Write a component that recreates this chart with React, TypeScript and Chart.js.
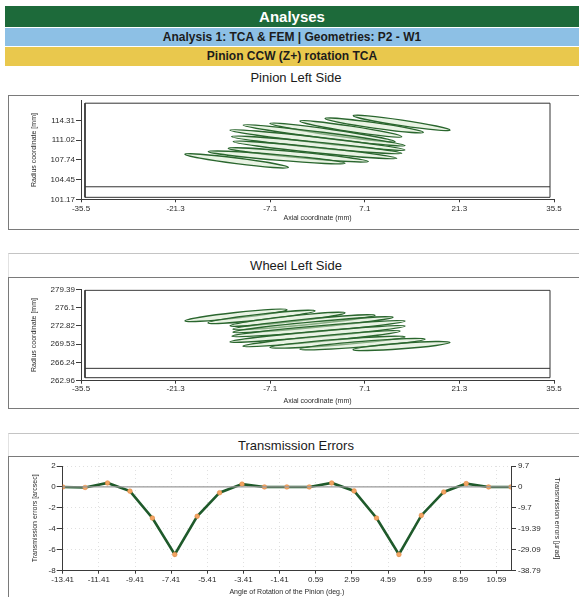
import React, { useEffect, useRef } from "react";
import { Chart, registerables } from "chart.js";
Chart.register(...registerables);

const FONT = "'Liberation Sans', Arial, sans-serif";
Chart.defaults.font.family = FONT;

// ---------- Pinion Left Side ----------
const CONTACT_X_TICKS = [-35.5, -21.3, -7.1, 7.1, 21.3, 35.5];
const PINION_Y_TICKS = [101.17, 104.45, 107.74, 111.02, 114.31];
const PINION_Y_MIN = 101.17;
const PINION_Y_MAX = 117.6;
const PINION_BLANK_X = [-34.9, 34.9, 34.9, -34.9, -34.9];
const PINION_BLANK_Y = [101.5, 101.5, 117.2, 117.2, 101.5];
const PINION_ROOT_X = [-34.9, 34.9];
const PINION_ROOT_Y = [103.26, 103.26];
const PINION_ELL_X1 = [5.37, 1.13, -2.63, -7.13, -11.14, -13.13, -12.88, -12.64, -13.39, -16.39, -19.89];
const PINION_ELL_Y1 = [115.11, 114.66, 114.21, 113.83, 113.55, 112.72, 111.62, 110.79, 109.68, 109.14, 108.69];
const PINION_ELL_X2 = [19.89, 15.88, 12.64, 11.63, 13.13, 13.13, 12.64, 11.89, 7.63, 4.13, -4.38];
const PINION_ELL_Y2 = [112.72, 112.34, 111.62, 110.79, 110.13, 109.4, 108.85, 108.02, 107.48, 107.19, 106.48];

// ---------- Wheel Left Side ----------
const WHEEL_Y_TICKS = [262.96, 266.24, 269.53, 272.82, 276.1, 279.39];
const WHEEL_Y_MIN = 262.96;
const WHEEL_Y_MAX = 279.39;
const WHEEL_BLANK_X = [-34.9, 34.9, 34.9, -34.9, -34.9];
const WHEEL_BLANK_Y = [263.5, 263.5, 279.21, 279.21, 263.5];
const WHEEL_ROOT_X = [-34.9, 34.9];
const WHEEL_ROOT_Y = [265.18, 265.18];
const WHEEL_ELL_X1 = [-19.89, -16.44, -13.13, -12.68, -12.68, -12.83, -13.13, -11.18, -7.13, -2.63, 5.33];
const WHEEL_ELL_Y1 = [273.71, 273.35, 272.85, 272.22, 271.69, 270.97, 269.95, 269.18, 268.94, 268.64, 268.55];
const WHEEL_ELL_X2 = [-4.58, -0.38, 4.13, 8.63, 11.33, 13.13, 13.13, 12.38, 13.13, 16.14, 19.89];
const WHEEL_ELL_Y2 = [275.72, 275.5, 275.18, 274.73, 274.37, 273.66, 272.76, 271.87, 270.84, 270.43, 269.84];

// ---------- Transmission Errors ----------
const TE_ANGLE = [-13.41, -12.17, -10.93, -9.69, -8.45, -7.21, -5.97, -4.73, -3.49, -2.25, -1.01, 0.23, 1.47, 2.71, 3.95, 5.19, 6.43, 7.67, 8.91, 10.15, 11.39];
const TE_ARCSEC = [0, -0.05, 0.38, -0.4, -2.97, -6.45, -2.8, -0.55, 0.27, 0, 0, 0, 0.38, -0.38, -2.97, -6.45, -2.72, -0.48, 0.32, 0, 0];
const TE_X_TICKS = [-13.41, -11.41, -9.41, -7.41, -5.41, -3.41, -1.41, 0.59, 2.59, 4.59, 6.59, 8.59, 10.59];
const TE_X_MIN = -13.41;
const TE_X_MAX = 11.39;
const TE_Y_TICKS = [-8, -6, -4, -2, 0, 2];
const TE_Y2_TICKS = [-38.79, -29.09, -19.39, -9.7, 0, 9.7];
const TE_ZERO_X = [-13.41, 11.39];
const TE_ZERO_Y = [0, 0];

const ELLIPSE_HALF_WIDTH = 2.8;
const AXIS = "#3a3a3a";
const TXT = "#2a2a2a";

const pts = (xs: number[], ys: number[]) => xs.map((x, i) => ({ x, y: ys[i] }));

const ellipsePlugin = (x1: number[], y1: number[], x2: number[], y2: number[]) => ({
  id: "contactEllipses",
  afterDatasetsDraw(chart: any) {
    const { ctx, scales } = chart;
    const sx = scales.x, sy = scales.y;
    ctx.save();
    for (let i = 0; i < x1.length; i++) {
      const ax = sx.getPixelForValue(x1[i]), ay = sy.getPixelForValue(y1[i]);
      const bx = sx.getPixelForValue(x2[i]), by = sy.getPixelForValue(y2[i]);
      const cx = (ax + bx) / 2, cy = (ay + by) / 2;
      const r = Math.hypot(bx - ax, by - ay) / 2;
      const ang = Math.atan2(by - ay, bx - ax);
      ctx.beginPath();
      ctx.ellipse(cx, cy, r, ELLIPSE_HALF_WIDTH, ang, 0, Math.PI * 2);
      ctx.fillStyle = "rgba(215,234,205,0.55)";
      ctx.fill();
      ctx.lineWidth = 1.4;
      ctx.strokeStyle = "#2a662e";
      ctx.stroke();
    }
    ctx.restore();
  },
});

const fixedTicks = (vals: number[]) => (s: any) => {
  s.ticks = vals.map((value) => ({ value }));
};

function contactConfig(o: any) {
  return {
    type: "scatter",
    data: {
      datasets: [
        { data: pts(o.bx, o.by), showLine: true, borderColor: "#333", borderWidth: 1, pointRadius: 0, tension: 0 },
        { data: pts(o.rx, o.ry), showLine: true, borderColor: "#333", borderWidth: 1, pointRadius: 0, tension: 0 },
      ],
    },
    options: {
      animation: false,
      responsive: false,
      devicePixelRatio: 1,
      events: [],
      layout: { padding: { left: 0, right: 25, top: o.padTop, bottom: o.padBottom } },
      plugins: { legend: { display: false }, tooltip: { enabled: false } },
      scales: {
        x: {
          type: "linear",
          min: -35.5,
          max: 35.5,
          afterBuildTicks: fixedTicks(CONTACT_X_TICKS),
          afterFit: (s: any) => { s.height = o.xAxisH; },
          ticks: { autoSkip: false, maxRotation: 0, font: { size: 8 }, color: TXT, padding: o.xTickPad, callback: (v: any) => String(v) },
          grid: { drawOnChartArea: false, drawTicks: true, tickLength: 3, tickColor: AXIS },
          border: { display: true, color: AXIS, width: 1 },
          title: { display: true, text: "Axial coordinate (mm)", font: { size: 7 }, color: TXT, padding: { top: 0, bottom: 0 } },
        },
        y: {
          type: "linear",
          min: o.ymin,
          max: o.ymax,
          afterBuildTicks: fixedTicks(o.yticks),
          afterFit: (s: any) => { s.width = 73; },
          ticks: { autoSkip: false, font: { size: 8 }, color: TXT, padding: 1, callback: (v: any) => String(v) },
          grid: { drawOnChartArea: false, drawTicks: true, tickLength: 5, tickColor: AXIS },
          border: { display: true, color: AXIS, width: 1 },
          title: { display: true, text: "Radius coordinate [mm]", font: { size: 7 }, color: TXT, padding: { top: 21.5, bottom: 0 } },
        },
      },
    },
    plugins: [ellipsePlugin(o.ex1, o.ey1, o.ex2, o.ey2)],
  };
}

function teConfig() {
  return {
    type: "scatter",
    data: {
      datasets: [
        { data: pts(TE_ZERO_X, TE_ZERO_Y), showLine: true, borderColor: "#9a9a9a", borderWidth: 1.2, pointRadius: 0, yAxisID: "y" },
        {
          data: pts(TE_ANGLE, TE_ARCSEC),
          showLine: true,
          borderColor: "#1f5a2b",
          borderWidth: 2.6,
          tension: 0,
          pointRadius: 2.3,
          pointBackgroundColor: "#f3a463",
          pointBorderColor: "#e48c45",
          pointBorderWidth: 0.6,
          yAxisID: "y",
        },
      ],
    },
    options: {
      animation: false,
      responsive: false,
      devicePixelRatio: 1,
      events: [],
      layout: { padding: { left: 0, right: 0, top: 10, bottom: 1.1 } },
      plugins: { legend: { display: false }, tooltip: { enabled: false } },
      scales: {
        x: {
          type: "linear",
          min: TE_X_MIN,
          max: TE_X_MAX,
          afterBuildTicks: fixedTicks(TE_X_TICKS),
          afterFit: (s: any) => { s.height = 25.2; },
          ticks: { autoSkip: false, maxRotation: 0, font: { size: 8 }, color: TXT, padding: 1.5, callback: (v: any) => String(v) },
          grid: { drawOnChartArea: true, color: "#e0e0e0", lineWidth: 1, drawTicks: true, tickLength: 3, tickColor: AXIS },
          border: { display: true, color: AXIS, width: 1, dash: [1, 3] },
          title: { display: true, text: "Angle of Rotation of the Pinion (deg.)", font: { size: 7 }, color: TXT, padding: { top: 0, bottom: 0 } },
        },
        y: {
          type: "linear",
          position: "left",
          min: -8,
          max: 2,
          afterBuildTicks: fixedTicks(TE_Y_TICKS),
          afterFit: (s: any) => { s.width = 54.7; },
          ticks: { autoSkip: false, font: { size: 8 }, color: TXT, padding: 1, callback: (v: any) => String(v) },
          grid: { drawOnChartArea: true, color: "#e0e0e0", lineWidth: 1, drawTicks: true, tickLength: 6, tickColor: AXIS },
          border: { display: true, color: AXIS, width: 1, dash: [1, 3] },
          title: { display: true, text: "Transmission errors [arcsec]", font: { size: 7 }, color: TXT, padding: { top: 22.8, bottom: 0 } },
        },
        y2: {
          type: "linear",
          position: "right",
          min: -38.79,
          max: 9.7,
          afterBuildTicks: fixedTicks(TE_Y2_TICKS),
          afterFit: (s: any) => { s.width = 68; },
          ticks: { autoSkip: false, font: { size: 8 }, color: TXT, padding: 2, callback: (v: any) => String(v) },
          grid: { drawOnChartArea: false, drawTicks: true, tickLength: 5, tickColor: AXIS },
          border: { display: true, color: AXIS, width: 1 },
          title: { display: true, text: "Transmission errors [\u00b5rad]", font: { size: 7 }, color: TXT, padding: { top: 18, bottom: 0 } },
        },
      },
    },
  };
}

function ChartCanvas({ make, left, top, width, height }: { make: () => any; left: number; top: number; width: number; height: number }) {
  const ref = useRef<HTMLCanvasElement>(null);
  useEffect(() => {
    const chart = new Chart(ref.current as HTMLCanvasElement, make());
    return () => chart.destroy();
  }, []);
  return (
    <canvas
      ref={ref}
      width={width}
      height={height}
      style={{ position: "absolute", left, top, width, height }}
    />
  );
}

const bar = (top: number, height: number, bg: string): React.CSSProperties => ({
  position: "absolute", left: 5, top, width: 574, height, background: bg,
  textAlign: "center", lineHeight: height + "px", fontWeight: "bold", fontFamily: FONT,
});

const title = (top: number): React.CSSProperties => ({
  position: "absolute", left: 8, top, width: 576, height: 16, lineHeight: "16px",
  textAlign: "center", fontSize: 13, fontFamily: FONT, color: "#1a1a1a",
});

const box = (top: number, height: number): React.CSSProperties => ({
  position: "absolute", left: 8, top, width: 620, height, boxSizing: "border-box",
  borderTop: "1px solid #7a7a7a", borderLeft: "1px solid #7a7a7a", borderBottom: "1px solid #7a7a7a",
});

const sep = (top: number, height: number): React.CSSProperties => ({
  position: "absolute", left: 8, top, width: 620, height, boxSizing: "border-box",
  borderTop: "1.5px solid #c4c4c4", borderLeft: "1px solid #e2e2e2",
});

export default function App() {
  return (
    <div style={{ position: "absolute", left: 0, top: 0, width: 579, height: 597, overflow: "hidden", background: "#fff" }}>
      <div style={{ ...bar(6, 21, "#1d6a3a"), color: "#fff", fontSize: 15 }}>Analyses</div>
      <div style={{ ...bar(28, 18, "#8dc0e5"), color: "#1c1c1c", fontSize: 12 }}>Analysis 1: TCA &amp; FEM | Geometries: P2 - W1</div>
      <div style={{ ...bar(47, 19, "#e9c84d"), color: "#1c1c1c", fontSize: 12 }}>Pinion CCW (Z+) rotation TCA</div>

      <div style={title(70)}>Pinion Left Side</div>
      <div style={box(95, 135)} />
      <ChartCanvas
        left={8} top={95} width={571} height={135}
        make={() => contactConfig({
          bx: PINION_BLANK_X, by: PINION_BLANK_Y, rx: PINION_ROOT_X, ry: PINION_ROOT_Y,
          ex1: PINION_ELL_X1, ey1: PINION_ELL_Y1, ex2: PINION_ELL_X2, ey2: PINION_ELL_Y2,
          ymin: PINION_Y_MIN, ymax: PINION_Y_MAX, yticks: PINION_Y_TICKS,
          padTop: 5.3, padBottom: 7.8, xAxisH: 22.9, xTickPad: 2,
        })}
      />

      <div style={sep(253, 24)} />
      <div style={title(257.5)}>Wheel Left Side</div>
      <div style={box(277, 132)} />
      <ChartCanvas
        left={8} top={277} width={571} height={132}
        make={() => contactConfig({
          bx: WHEEL_BLANK_X, by: WHEEL_BLANK_Y, rx: WHEEL_ROOT_X, ry: WHEEL_ROOT_Y,
          ex1: WHEEL_ELL_X1, ey1: WHEEL_ELL_Y1, ex2: WHEEL_ELL_X2, ey2: WHEEL_ELL_Y2,
          ymin: WHEEL_Y_MIN, ymax: WHEEL_Y_MAX, yticks: WHEEL_Y_TICKS,
          padTop: 12.3, padBottom: 3.8, xAxisH: 24.5, xTickPad: 0.5,
        })}
      />

      <div style={sep(433, 23)} />
      <div style={title(437.5)}>Transmission Errors</div>
      <div style={box(456, 160)} />
      <ChartCanvas left={8} top={456} width={571} height={141} make={teConfig} />
    </div>
  );
}
